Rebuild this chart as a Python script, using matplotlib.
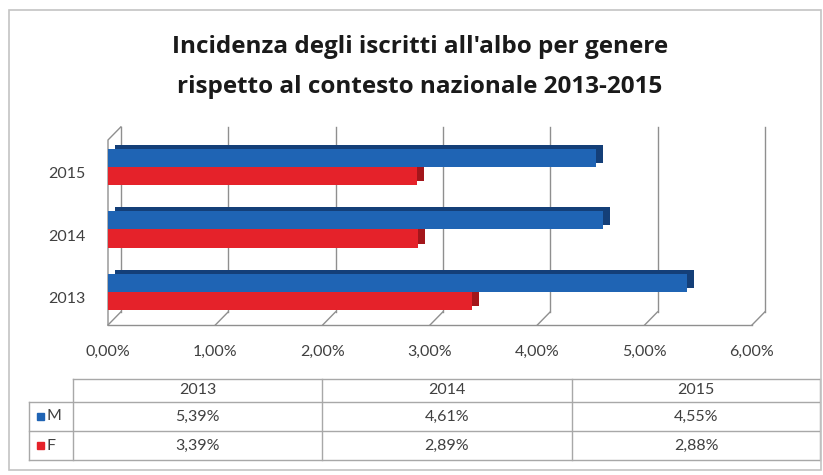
import numpy as np
import matplotlib
matplotlib.use("Agg")
import matplotlib.pyplot as plt
from matplotlib.patches import Rectangle
from matplotlib.transforms import ScaledTranslation

plt.rcParams['font.family'] = ['Lato', 'DejaVu Sans']

years = ["2013", "2014", "2015"]
series_names = ["M", "F"]
m_values = [5.39, 4.61, 4.55]
f_values = [3.39, 2.89, 2.88]
x_ticks = [0, 1, 2, 3, 4, 5, 6]
title_lines = ["Incidenza degli iscritti all'albo per genere",
               "rispetto al contesto nazionale 2013-2015"]

blue, blue_dark = "#1F64B4", "#143F78"
red, red_dark = "#E5222A", "#A3161B"
grid_col = "#8f8f8f"
text_col = "#404040"

def pct(v):
    return "{:.2f}%".format(v).replace(".", ",")

W, H = 823, 475
fig = plt.figure(figsize=(W / 100, H / 100), dpi=100)

# outer chart border
fig.patches.append(Rectangle((9 / W, 5 / H), 812 / W, 460 / H, transform=fig.transFigure,
                             fill=False, edgecolor="#c4c4c4", lw=1.2))

for ty, line in zip([47, 87], title_lines):
    fig.text(420 / W, 1 - ty / H, line, ha="center", va="center", fontsize=17.5,
             fontweight="bold", color="#1a1a1a", family=["Open Sans", "DejaVu Sans"])

# front plane of the 3D bar area
ax = fig.add_axes([108 / W, 150 / H, 644 / W, 185 / H])
ax.set_xlim(0, 6)
y0, y1 = -0.53, 2.43
ax.set_ylim(y0, y1)
for s in ax.spines.values():
    s.set_visible(False)

# depth of the back wall, in data units
dx, dy = 0.12, 0.21
for k in x_ticks:
    ax.plot([k + dx, k + dx], [y0 + dy, y1 + dy], color=grid_col, lw=1, clip_on=False, zorder=1)
    ax.plot([k, k + dx], [y0, y0 + dy], color=grid_col, lw=1, clip_on=False, zorder=1)
ax.plot([0, 6], [y0, y0], color=grid_col, lw=1, clip_on=False, zorder=1)
ax.plot([0, 0, dx], [y0, y1, y1 + dy], color=grid_col, lw=1, clip_on=False, zorder=1)

pos = np.arange(len(years))
h = 0.29
depth = ScaledTranslation(7 / 100, 4 / 100, fig.dpi_scale_trans)
ax.barh(pos - h / 2, f_values, height=h, color=red_dark, transform=ax.transData + depth, zorder=2)
ax.barh(pos + h / 2, m_values, height=h, color=blue_dark, transform=ax.transData + depth, zorder=2)
ax.barh(pos - h / 2, f_values, height=h, color=red, zorder=3)
ax.barh(pos + h / 2, m_values, height=h, color=blue, zorder=3)

ax.set_xticks(x_ticks)
ax.set_xticklabels([pct(v) for v in x_ticks])
ax.set_yticks(pos)
ax.set_yticklabels(years)
ax.tick_params(axis="x", length=0, pad=14, labelsize=11.5, labelcolor=text_col)
ax.tick_params(axis="y", length=0, pad=16, labelsize=11.5, labelcolor=text_col)
shift = ScaledTranslation(0, -6 / 100, fig.dpi_scale_trans)
for lab in ax.get_yticklabels():
    lab.set_transform(lab.get_transform() + shift)

# data table under the chart
tax = fig.add_axes([29 / W, 15 / H, 791 / W, 81 / H])
tax.set_xlim(0, 791)
tax.set_ylim(81, 0)
tax.axis("off")
line_col = "#a8a8a8"
col_edges = [0, 44, 293, 543, 791]
row_edges = [0, 23, 52, 81]
tax.plot([col_edges[1], col_edges[-1]], [0, 0], color=line_col, lw=1, clip_on=False)
for r in row_edges[1:]:
    tax.plot([0, col_edges[-1]], [r, r], color=line_col, lw=1, clip_on=False)
tax.plot([0, 0], [row_edges[1], row_edges[-1]], color=line_col, lw=1, clip_on=False)
for c in col_edges[1:]:
    tax.plot([c, c], [0, row_edges[-1]], color=line_col, lw=1, clip_on=False)

for j, yr in enumerate(years):
    cx = (col_edges[j + 1] + col_edges[j + 2]) / 2
    tax.text(cx, (row_edges[0] + row_edges[1]) / 2, yr, ha="center", va="center", fontsize=11.5, color=text_col)
rows = [m_values, f_values]
row_colors = [blue, red]
for i, (name, vals, c) in enumerate(zip(series_names, rows, row_colors)):
    cy = (row_edges[i + 1] + row_edges[i + 2]) / 2
    tax.add_patch(Rectangle((8, cy - 3.5), 7, 7, color=c, clip_on=False))
    tax.text(18, cy, name, ha="left", va="center", fontsize=11.5, color=text_col)
    for j, v in enumerate(vals):
        cx = (col_edges[j + 1] + col_edges[j + 2]) / 2
        tax.text(cx, cy, pct(v), ha="center", va="center", fontsize=11.5, color=text_col)

fig.savefig("out.png", dpi=100)
